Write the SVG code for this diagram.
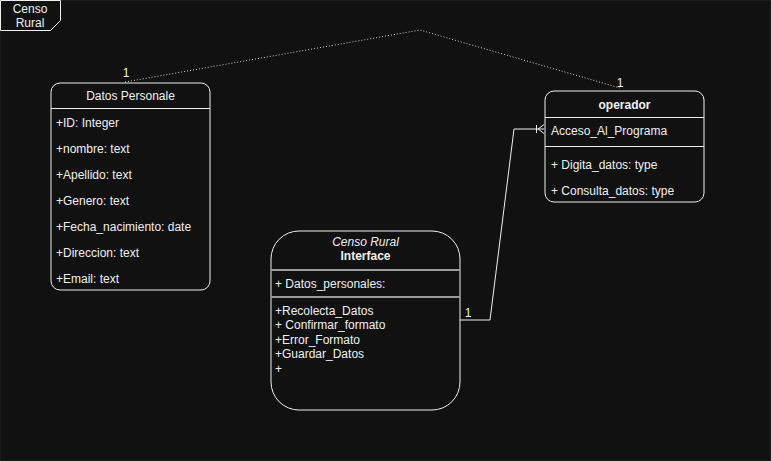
<svg xmlns="http://www.w3.org/2000/svg" width="771" height="461" viewBox="0 0 771 461">
<style>
text{font-family:"Liberation Sans",Arial,sans-serif;font-size:12px;fill:#f0f0f0}
.box{fill:#111111;stroke:#f0f0f0;stroke-width:1}
.sep{stroke:#f0f0f0;stroke-width:1}
.sep2{stroke:#9a9a9a;stroke-width:2}
.c{text-anchor:middle}
.b{font-weight:bold}
.i{font-style:italic}
.edge{fill:none;stroke:#f0f0f0;stroke-width:1}
.dot{fill:none;stroke:#d0d0d0;stroke-width:1;stroke-dasharray:1 2}
</style>
<rect x="0.5" y="0.5" width="770" height="460" fill="#111111" stroke="#1c1c1c"/>
<g id="frame-label">
<path d="M0.5,0.5 H60.5 V20.5 L50.5,30.5 H0.5 Z" class="box"/>
<text x="30" y="13" class="c">Censo</text>
<text x="30" y="27" class="c">Rural</text>
</g>
<g id="connectors">
<polyline class="dot" points="125,82 420,30 620,88"/>
<text x="126" y="77" class="c">1</text>
<text x="620" y="87" class="c">1</text>
<polyline class="edge" points="460,320 490,320 514,129 544,129"/>
<line class="edge" x1="536.5" y1="125" x2="536.5" y2="133"/>
<polyline class="edge" points="544,124.5 538,129 544,133.5"/>
<text x="468" y="317" class="c">1</text>
</g>
<g id="datos-personale">
<rect x="51" y="83" width="159" height="207" rx="9" class="box"/>
<line x1="51" y1="108.5" x2="210" y2="108.5" class="sep"/>
<text x="130.5" y="100" class="c">Datos Personale</text>
<text x="56" y="127">+ID: Integer</text>
<text x="56" y="153">+nombre: text</text>
<text x="56" y="179">+Apellido: text</text>
<text x="56" y="205">+Genero: text</text>
<text x="56" y="231">+Fecha_nacimiento: date</text>
<text x="56" y="257">+Direccion: text</text>
<text x="56" y="283">+Email: text</text>
</g>
<g id="operador">
<rect x="545" y="91" width="159" height="111" rx="9" class="box"/>
<line x1="545" y1="117.5" x2="704" y2="117.5" class="sep"/>
<line x1="545" y1="146.5" x2="704" y2="146.5" class="sep"/>
<text x="624.5" y="109" class="c b">operador</text>
<text x="551" y="135">Acceso_Al_Programa</text>
<text x="551" y="169">+ Digita_datos: type</text>
<text x="551" y="195">+ Consulta_datos: type</text>
</g>
<g id="censo-rural-interface">
<rect x="271" y="231" width="189" height="179" rx="28" class="box"/>
<line x1="271" y1="270" x2="460" y2="270" class="sep2"/>
<line x1="271" y1="297" x2="460" y2="297" class="sep2"/>
<text x="365.5" y="246" class="c i">Censo Rural</text>
<text x="365.5" y="260" class="c b">Interface</text>
<text x="275" y="288">+ Datos_personales:</text>
<text x="275" y="315">+Recolecta_Datos</text>
<text x="275" y="329">+ Confirmar_formato</text>
<text x="275" y="344">+Error_Formato</text>
<text x="275" y="358">+Guardar_Datos</text>
<text x="275" y="373">+</text>
</g>
</svg>
